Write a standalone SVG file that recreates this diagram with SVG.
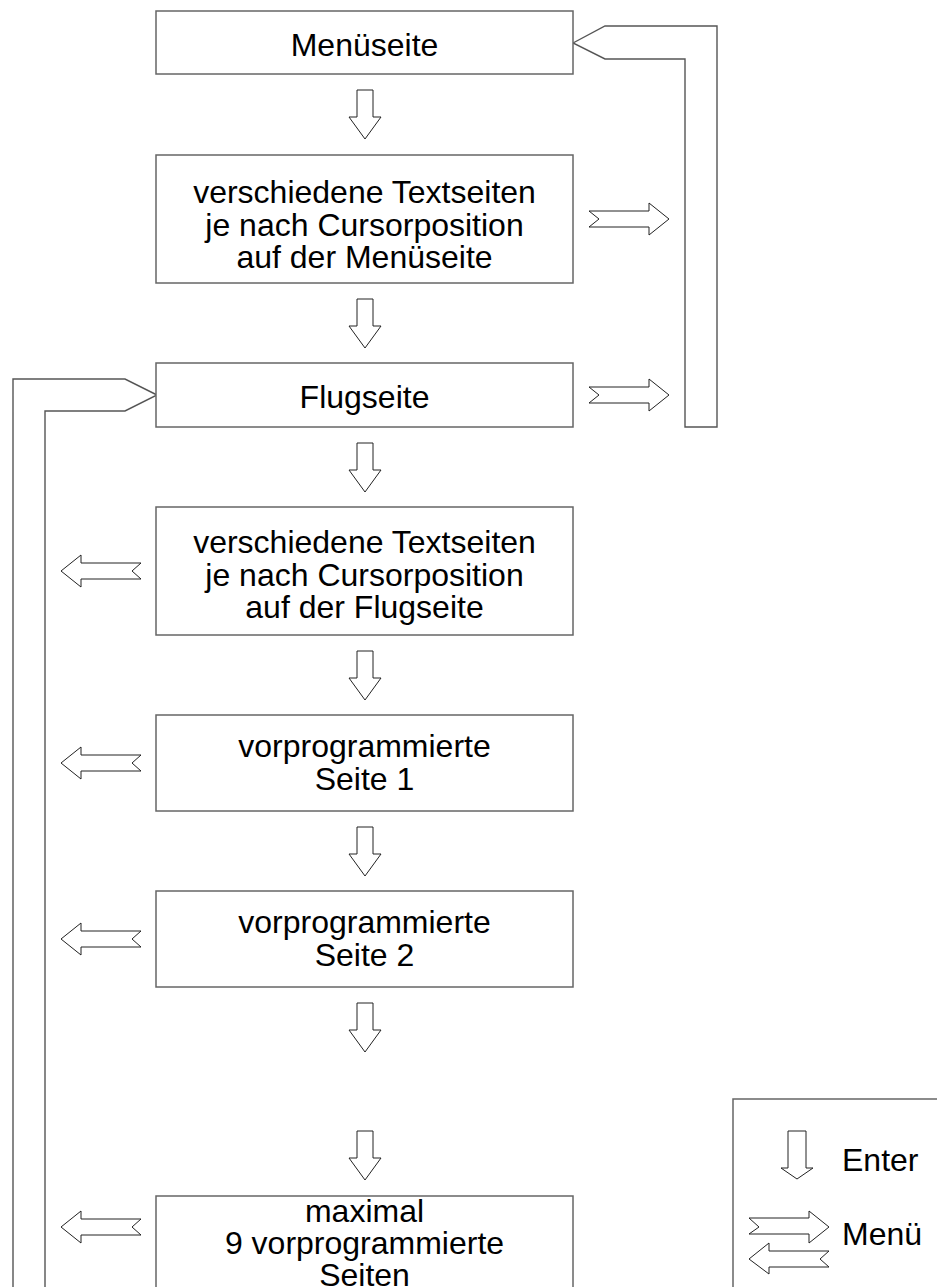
<svg xmlns="http://www.w3.org/2000/svg" width="937" height="1287" viewBox="0 0 937 1287">
<style>
.box{fill:#fff;stroke:#666;stroke-width:1.5}
.arr{fill:#fff;stroke:#222;stroke-width:1}
.big{fill:#fff;stroke:#555;stroke-width:1.4;stroke-linejoin:miter}
.t{font-family:"Liberation Sans",Arial,sans-serif;font-size:32px;fill:#000;text-anchor:middle}
.l{font-family:"Liberation Sans",Arial,sans-serif;font-size:32px;fill:#000}
</style>
<defs>
<path id="down" class="arr" d="M357,0 H373 V27 H381 L365,49 L349,27 H357 Z"/>
<path id="right" class="arr" d="M589,-8 H649 V-16 L669,0 L649,16 V8 H589 L599,0 Z"/>
<path id="left" class="arr" d="M141,-8 H81 V-16 L61,0 L81,16 V8 H141 L132,0 Z"/>
</defs>
<rect width="937" height="1287" fill="#fff"/>
<g id="connectors">
<path class="big" d="M573,43 L605,26 H717 V427 H685 V59 H605 Z"/>
<path class="big" d="M157,395 L125,379 H13 V1295 H45 V411 H125 Z"/>
<use href="#down" y="90"/>
<use href="#down" y="299"/>
<use href="#down" y="443"/>
<use href="#down" y="651"/>
<use href="#down" y="827"/>
<use href="#down" y="1003"/>
<use href="#down" y="1131"/>
<use href="#right" y="219"/>
<use href="#right" y="395"/>
<use href="#left" y="571"/>
<use href="#left" y="763"/>
<use href="#left" y="939"/>
<use href="#left" y="1227"/>
</g>
<g id="n1"><rect class="box" x="156" y="11" width="417" height="63"/><text class="t" x="364.5" y="56">Menüseite</text></g>
<g id="n2"><rect class="box" x="156" y="155" width="417" height="128"/>
<text class="t" x="364.5" y="203">verschiedene Textseiten</text>
<text class="t" x="364.5" y="236">je nach Cursorposition</text>
<text class="t" x="364.5" y="268">auf der Menüseite</text></g>
<g id="n3"><rect class="box" x="156" y="363" width="417" height="64"/><text class="t" x="364.5" y="408">Flugseite</text></g>
<g id="n4"><rect class="box" x="156" y="507" width="417" height="128"/>
<text class="t" x="364.5" y="553">verschiedene Textseiten</text>
<text class="t" x="364.5" y="586">je nach Cursorposition</text>
<text class="t" x="364.5" y="618">auf der Flugseite</text></g>
<g id="n5"><rect class="box" x="156" y="715" width="417" height="96"/>
<text class="t" x="364.5" y="757">vorprogrammierte</text>
<text class="t" x="364.5" y="790">Seite 1</text></g>
<g id="n6"><rect class="box" x="156" y="891" width="417" height="96"/>
<text class="t" x="364.5" y="933">vorprogrammierte</text>
<text class="t" x="364.5" y="966">Seite 2</text></g>
<g id="n7"><rect class="box" x="156" y="1196" width="417" height="110"/>
<text class="t" x="364.5" y="1222">maximal</text>
<text class="t" x="364.5" y="1254">9 vorprogrammierte</text>
<text class="t" x="364.5" y="1286">Seiten</text></g>
<g id="legend">
<rect class="box" x="733" y="1099" width="220" height="220"/>
<path class="arr" d="M788,1131 H806 V1168 H813 L797,1179 L781,1168 H788 Z"/>
<text class="l" x="842" y="1171">Enter</text>
<path class="arr" d="M749,1218 H809 V1211 L829,1227 L809,1243 V1234 H749 L759,1227 Z"/>
<path class="arr" d="M829,1251 H769 V1243 L749,1259 L769,1274 V1267 H829 L820,1259 Z"/>
<text class="l" x="842" y="1245">Menü</text>
</g>
</svg>
